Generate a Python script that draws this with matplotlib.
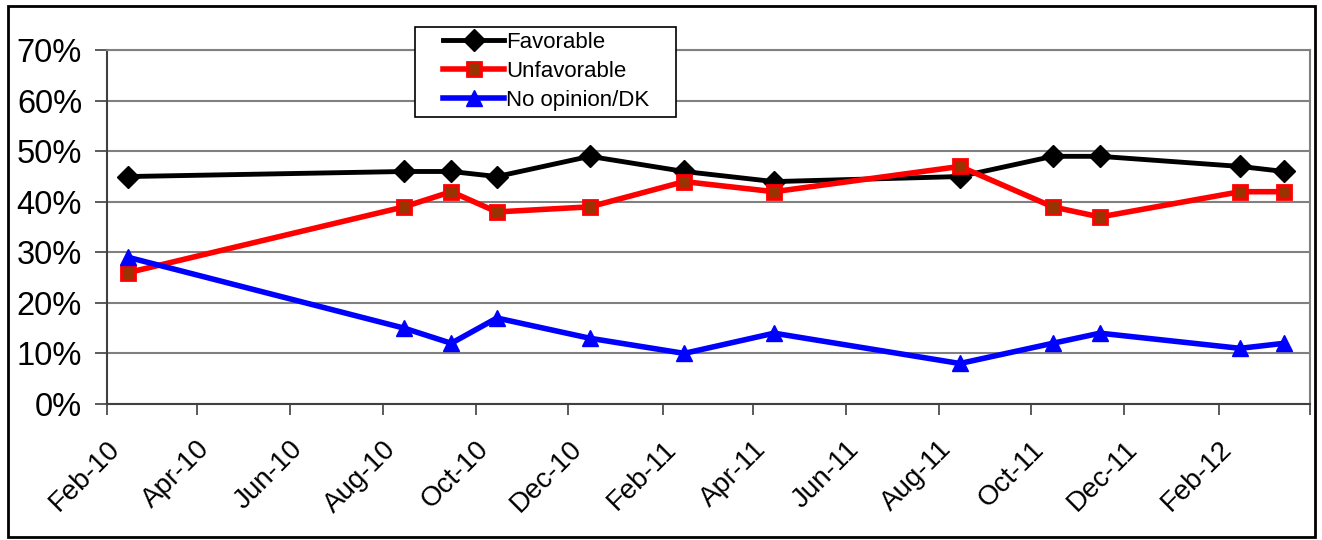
import matplotlib
matplotlib.use("Agg")
import matplotlib.pyplot as plt
import matplotlib.dates as mdates
from matplotlib.ticker import FuncFormatter
from matplotlib.patches import Rectangle
from datetime import date

plt.rcParams['font.family'] = ['Liberation Sans', 'DejaVu Sans']

# ---- data ----
dates = ["2010-02-15", "2010-08-15", "2010-09-15", "2010-10-15", "2010-12-15",
         "2011-02-15", "2011-04-15", "2011-08-15", "2011-10-15", "2011-11-15",
         "2012-02-15", "2012-03-15"]
favorable = [45, 46, 46, 45, 49, 46, 44, 45, 49, 49, 47, 46]
unfavorable = [26, 39, 42, 38, 39, 44, 42, 47, 39, 37, 42, 42]
no_opinion = [29, 15, 12, 17, 13, 10, 14, 8, 12, 14, 11, 12]
x = [date.fromisoformat(d) for d in dates]

fig = plt.figure(figsize=(13.22, 5.4), dpi=100)
ax = fig.add_axes([0.081, 0.252, 0.91, 0.655])

ax.plot(x, favorable, color='black', lw=3.5, marker='D', ms=11,
        mfc='black', mec='black', label='Favorable', zorder=3)
ax.plot(x, unfavorable, color='red', lw=4, marker='s', ms=9.5,
        mfc='#993300', mec='red', mew=2, label='Unfavorable', zorder=3)
ax.plot(x, no_opinion, color='blue', lw=4, marker='^', ms=12,
        mfc='blue', mec='blue', label='No opinion/DK', zorder=3)

ax.set_ylim(0, 70)
ax.set_yticks(range(0, 71, 10))
ax.yaxis.set_major_formatter(FuncFormatter(lambda v, p: f"{v:.0f}%"))
ax.set_xlim(date(2010, 2, 1), date(2012, 4, 1))
ax.xaxis.set_major_locator(mdates.MonthLocator(bymonth=[2, 4, 6, 8, 10, 12]))
# last tick (Apr-12) sits at the axis end and has no label
last = mdates.date2num(date(2012, 4, 1))
ax.xaxis.set_major_formatter(FuncFormatter(
    lambda v, p: "" if v >= last - 1 else mdates.num2date(v).strftime("%b-%y")))

ax.grid(axis='y', color='#808080', lw=1.5)
ax.set_axisbelow(True)
for s in ['top', 'right']:
    ax.spines[s].set_color('#808080')
    ax.spines[s].set_linewidth(1.5)
for s in ['left', 'bottom']:
    ax.spines[s].set_color('#404040')
    ax.spines[s].set_linewidth(1.5)

ax.tick_params(axis='y', labelsize=23.5, length=9, width=1.2, color='#404040', pad=9)
ax.tick_params(axis='x', labelsize=20, length=8, width=1.2, color='#404040', pad=15)
for lbl in ax.get_xticklabels():
    lbl.set_rotation(45)
    lbl.set_ha('right')
    lbl.set_rotation_mode('anchor')

# legend box drawn separately (wider padding on the left than matplotlib allows)
fig.patches.append(Rectangle((415 / 1322, 1 - 117 / 540), 261 / 1322, 90 / 540,
                             transform=fig.transFigure, facecolor='white',
                             edgecolor='black', lw=1.2, zorder=4))
leg = fig.legend(loc='upper left', bbox_to_anchor=(443 / 1322, 1 - 32 / 540),
                 fontsize=16, frameon=False, borderpad=0, labelspacing=0.36,
                 handlelength=2.75, handletextpad=0.1, borderaxespad=0)
leg.set_zorder(5)

# outer chart border
fig.patches.append(Rectangle((0.006, 0.006), 0.989, 0.983, transform=fig.transFigure,
                             fill=False, edgecolor='black', lw=2))

fig.savefig("out.png", dpi=100)
